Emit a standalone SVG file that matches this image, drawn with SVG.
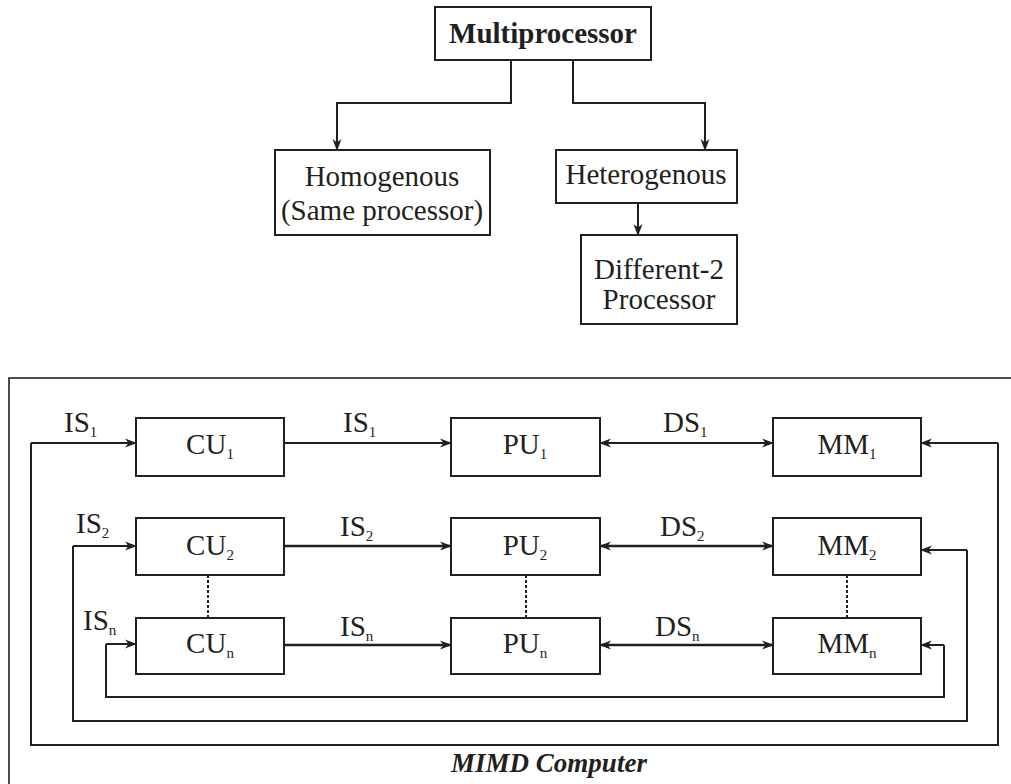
<svg xmlns="http://www.w3.org/2000/svg" width="1011" height="784" viewBox="0 0 1011 784">
  <style>
    .box { fill: #ffffff; stroke: #231f20; stroke-width: 2; }
    .t { font-family: "Liberation Serif", "Times New Roman", serif; fill: #231f20; }
    .lbl { font-size: 29px; }
    .node { font-size: 29px; text-anchor: middle; }
    .sub { font-size: 15px; }
    .wire { fill: none; stroke: #231f20; stroke-width: 2; }
    .wire2 { fill: none; stroke: #231f20; stroke-width: 2.6; }
    .dots { fill: none; stroke: #231f20; stroke-width: 2; stroke-dasharray: 3 2; }
  </style>
  <defs>
    <marker id="head" viewBox="0 0 12 10" refX="11" refY="5" markerWidth="12" markerHeight="10" markerUnits="userSpaceOnUse" orient="auto-start-reverse">
      <path d="M0,0.5 L12,5 L0,9.5 L3.5,5 Z" fill="#231f20"/>
    </marker>
  </defs>

  <rect width="1011" height="784" fill="#ffffff"/>

  <!-- hierarchy of multiprocessor types -->
  <g id="multiprocessor">
    <rect class="box" x="435" y="7" width="216" height="53"/>
    <text class="t node" x="543" y="43" font-weight="bold">Multiprocessor</text>
  </g>
  <g id="homogenous">
    <rect class="box" x="275" y="150" width="215" height="85"/>
    <text class="t node" x="382" y="186">Homogenous</text>
    <text class="t node" x="382" y="220">(Same processor)</text>
  </g>
  <g id="heterogenous">
    <rect class="box" x="556" y="150" width="181" height="53"/>
    <text class="t node" x="646" y="184">Heterogenous</text>
  </g>
  <g id="different">
    <rect class="box" x="581" y="235" width="156" height="89"/>
    <text class="t node" x="659" y="279">Different-2</text>
    <text class="t node" x="659" y="309">Processor</text>
  </g>

  <!-- MIMD computer frame -->
  <rect x="9" y="378" width="1040" height="430" fill="none" stroke="#231f20" stroke-width="1.6"/>

  <!-- processing rows -->
  <g id="cu1">
    <rect class="box" x="136" y="418" width="148" height="58"/>
    <text class="t node" x="210" y="454">CU<tspan class="sub" dy="5">1</tspan></text>
  </g>
  <g id="pu1">
    <rect class="box" x="451" y="418" width="149" height="58"/>
    <text class="t node" x="525" y="454">PU<tspan class="sub" dy="5">1</tspan></text>
  </g>
  <g id="mm1">
    <rect class="box" x="773" y="418" width="148" height="58"/>
    <text class="t node" x="847" y="454">MM<tspan class="sub" dy="5">1</tspan></text>
  </g>
  <g id="cu2">
    <rect class="box" x="136" y="518" width="148" height="57"/>
    <text class="t node" x="210" y="555">CU<tspan class="sub" dy="5">2</tspan></text>
  </g>
  <g id="pu2">
    <rect class="box" x="451" y="518" width="149" height="57"/>
    <text class="t node" x="525" y="555">PU<tspan class="sub" dy="5">2</tspan></text>
  </g>
  <g id="mm2">
    <rect class="box" x="773" y="518" width="148" height="57"/>
    <text class="t node" x="847" y="555">MM<tspan class="sub" dy="5">2</tspan></text>
  </g>
  <g id="cun">
    <rect class="box" x="136" y="618" width="148" height="56"/>
    <text class="t node" x="210" y="653">CU<tspan class="sub" dy="5">n</tspan></text>
  </g>
  <g id="pun">
    <rect class="box" x="451" y="618" width="149" height="56"/>
    <text class="t node" x="525" y="653">PU<tspan class="sub" dy="5">n</tspan></text>
  </g>
  <g id="mmn">
    <rect class="box" x="773" y="618" width="148" height="56"/>
    <text class="t node" x="847" y="653">MM<tspan class="sub" dy="5">n</tspan></text>
  </g>

  <g id="connectors">
    <!-- tree links -->
    <path class="wire" d="M511,60 V103 H337 V150" marker-end="url(#head)"/>
    <path class="wire" d="M573,60 V103 H705 V150" marker-end="url(#head)"/>
    <path class="wire" d="M638,203 V235" marker-end="url(#head)"/>

    <!-- instruction streams CU to PU -->
    <path class="wire" d="M284,443 H451" marker-end="url(#head)"/>
    <path class="wire2" d="M284,546 H451" marker-end="url(#head)"/>
    <path class="wire2" d="M284,645 H451" marker-end="url(#head)"/>

    <!-- data streams PU to MM -->
    <path class="wire" d="M600,443 H773" marker-start="url(#head)" marker-end="url(#head)"/>
    <path class="wire2" d="M600,546 H773" marker-start="url(#head)" marker-end="url(#head)"/>
    <path class="wire2" d="M600,645 H773" marker-start="url(#head)" marker-end="url(#head)"/>

    <!-- return loops from memory to control -->
    <path class="wire" d="M31,443 H136" marker-end="url(#head)"/>
    <path class="wire" d="M998,443 V745 H31 V443"/>
    <path class="wire" d="M998,443 H921" marker-end="url(#head)"/>

    <path class="wire" d="M73,546 H136" marker-end="url(#head)"/>
    <path class="wire" d="M967,550 V721 H73 V546"/>
    <path class="wire" d="M967,550 H921" marker-end="url(#head)"/>

    <path class="wire" d="M106,644 H136" marker-end="url(#head)"/>
    <path class="wire" d="M944,645 V697 H106 V644"/>
    <path class="wire" d="M944,645 H921" marker-end="url(#head)"/>

    <!-- ellipsis links between rows -->
    <path class="dots" d="M208,575 V618"/>
    <path class="dots" d="M526,575 V618"/>
    <path class="dots" d="M847,575 V618"/>
  </g>

  <!-- stream labels -->
  <g id="labels" class="t lbl">
    <text x="64" y="432">IS<tspan class="sub" dy="5">1</tspan></text>
    <text x="343" y="432">IS<tspan class="sub" dy="5">1</tspan></text>
    <text x="663" y="432">DS<tspan class="sub" dy="5">1</tspan></text>
    <text x="76" y="533">IS<tspan class="sub" dy="5">2</tspan></text>
    <text x="340" y="536">IS<tspan class="sub" dy="5">2</tspan></text>
    <text x="660" y="536">DS<tspan class="sub" dy="5">2</tspan></text>
    <text x="83" y="630">IS<tspan class="sub" dy="5">n</tspan></text>
    <text x="340" y="636">IS<tspan class="sub" dy="5">n</tspan></text>
    <text x="655" y="636">DS<tspan class="sub" dy="5">n</tspan></text>
  </g>

  <text class="t" x="549" y="772" font-size="27" font-weight="bold" font-style="italic" text-anchor="middle">MIMD Computer</text>
</svg>
